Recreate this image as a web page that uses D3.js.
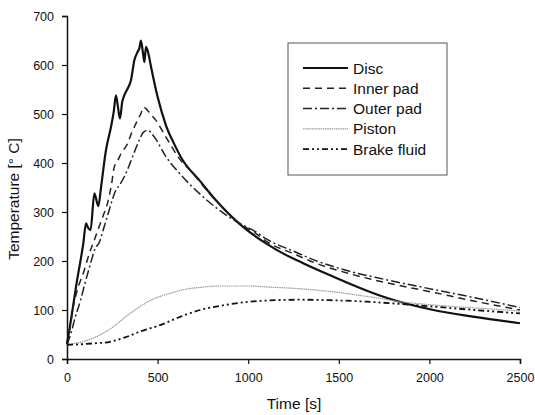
<!DOCTYPE html>
<html>
<head>
<meta charset="utf-8">
<script src="https://cdn.jsdelivr.net/npm/d3@7"></script>
<style>
  body { margin: 0; background: #fff; }
  svg { font-family: "Liberation Sans", Arial, sans-serif; }
</style>
</head>
<body>
<svg id="chart" width="535" height="415"></svg>
<script>
// values: [time s, temperature °C]
const disc = [[0,30],[16,66],[53,155],[90,236],[105,277],[116,268],[130,263],[151,338],[173,312],[188,351],
  [215,426],[243,474],[258,505],[270,538],[281,515],[292,491],[305,525],[316,538],[335,552],[353,569],
  [372,610],[390,627],[400,635],[408,650],[418,628],[427,606],[436,637],[450,622],[464,596],[500,535],
  [546,477],[590,440],[638,406],[730,365],[822,324],[970,270],[1098,236],[1194,215],[1300,196],[1470,168],
  [1617,145],[1746,127],[2022,100],[2250,86],[2500,73]];
const innerPad = [[0,30],[15,60],[35,107],[60,145],[90,175],[123,215],[151,243],[175,268],[197,290],[225,320],
  [245,355],[261,392],[280,405],[298,419],[335,440],[355,460],[372,474],[390,488],[408,501],[422,514],
  [436,511],[460,500],[491,487],[546,453],[620,409],[694,379],[785,338],[870,305],[951,277],[1043,256],
  [1100,240],[1250,215],[1378,195],[1550,175],[1746,157],[2022,136],[2250,118],[2500,100]];
const outerPad = [[0,30],[20,50],[45,85],[75,120],[96,150],[130,195],[155,225],[178,238],[205,270],[233,304],
  [250,325],[270,345],[290,355],[316,372],[340,392],[362,413],[380,430],[399,447],[420,462],[445,467],
  [482,453],[546,413],[638,372],[730,338],[840,304],[951,277],[1040,260],[1100,245],[1250,220],[1378,200],
  [1550,180],[1746,163],[2022,142],[2250,125],[2500,105]];
const piston = [[0,30],[60,33],[127,40],[237,61],[348,93],[458,119],[568,134],[650,142],[734,146],[850,149],
  [1000,149],[1102,147],[1300,143],[1470,137],[1650,128],[1838,117],[2100,108],[2300,103],[2500,98]];
const brakeFluid = [[0,29],[72,30],[150,32],[237,35],[320,44],[403,56],[513,69],[624,86],[734,100],[870,110],
  [1010,117],[1150,120],[1286,121],[1450,120],[1654,117],[1850,112],[2022,107],[2250,100],[2500,93]];

const seriesNames = ["Disc", "Inner pad", "Outer pad", "Piston", "Brake fluid"];
const xTicks = [0, 500, 1000, 1500, 2000, 2500];
const yTicks = [0, 100, 200, 300, 400, 500, 600, 700];

const svg = d3.select("#chart");
const x = d3.scaleLinear().domain([0, 2500]).range([67, 520]);
const y = d3.scaleLinear().domain([0, 700]).range([359, 16]);

// line styles
const styles = [
  { data: disc, stroke: "#111", width: 2.2, dash: null },
  { data: innerPad, stroke: "#222", width: 1.5, dash: "7,5" },
  { data: outerPad, stroke: "#222", width: 1.5, dash: "9,3,2,3" },
  { data: piston, stroke: "#999", width: 1.2, dash: "1.5,0.7" },
  { data: brakeFluid, stroke: "#111", width: 1.8, dash: "6,3,2,3,2,3" }
];

const line = d3.line()
  .x(d => x(d[0]))
  .y(d => y(d[1]))
  .curve(d3.curveMonotoneX);

svg.append("g")
  .selectAll("path")
  .data(styles)
  .join("path")
  .attr("fill", "none")
  .attr("stroke", d => d.stroke)
  .attr("stroke-width", d => d.width)
  .attr("stroke-dasharray", d => d.dash)
  .attr("d", d => line(d.data));

// axes: major ticks with labels, minor ticks shorter
const xAxis = svg.append("g").attr("transform", `translate(0,${y(0)})`);
xAxis.call(d3.axisBottom(x).tickValues(d3.range(250, 2500, 500)).tickSize(3).tickFormat(""));
xAxis.call(d3.axisBottom(x).tickValues(xTicks).tickSize(5).tickPadding(9).tickFormat(d3.format("d")));
const yAxis = svg.append("g").attr("transform", `translate(${x(0)},0)`);
yAxis.call(d3.axisLeft(y).tickValues(d3.range(50, 700, 100)).tickSize(3).tickFormat(""));
yAxis.call(d3.axisLeft(y).tickValues(yTicks).tickSize(5).tickPadding(8).tickFormat(d3.format("d")));

svg.selectAll(".domain").attr("stroke-width", 1.5).attr("stroke", "#111");
svg.selectAll(".tick line").attr("stroke-width", 1.2).attr("stroke", "#111");
svg.selectAll(".tick text").attr("font-size", 12.5).attr("fill", "#111")
  .attr("font-family", "Liberation Sans, Arial, sans-serif");

svg.append("text")
  .attr("x", 294).attr("y", 409)
  .attr("text-anchor", "middle")
  .attr("font-size", 15.5)
  .attr("fill", "#111")
  .text("Time [s]");

svg.append("text")
  .attr("transform", "translate(19,199) rotate(-90)")
  .attr("text-anchor", "middle")
  .attr("font-size", 15.5)
  .attr("fill", "#111")
  .text("Temperature [° C]");

// legend
const legend = svg.append("g");
legend.append("rect")
  .attr("x", 288).attr("y", 43).attr("width", 159).attr("height", 132)
  .attr("fill", "#fff").attr("stroke", "#555").attr("stroke-width", 1);

const rows = legend.selectAll("g.row")
  .data(seriesNames)
  .join("g")
  .attr("class", "row")
  .attr("transform", (d, i) => `translate(0,${68 + i * 20.3})`);
rows.append("line")
  .attr("x1", 303).attr("x2", 348)
  .attr("stroke", (d, i) => styles[i].stroke)
  .attr("stroke-width", (d, i) => styles[i].width)
  .attr("stroke-dasharray", (d, i) => styles[i].dash);
rows.append("text")
  .attr("x", 353).attr("y", 5.5)
  .attr("font-size", 15.5)
  .attr("fill", "#111")
  .text(d => d);
</script>
</body>
</html>
